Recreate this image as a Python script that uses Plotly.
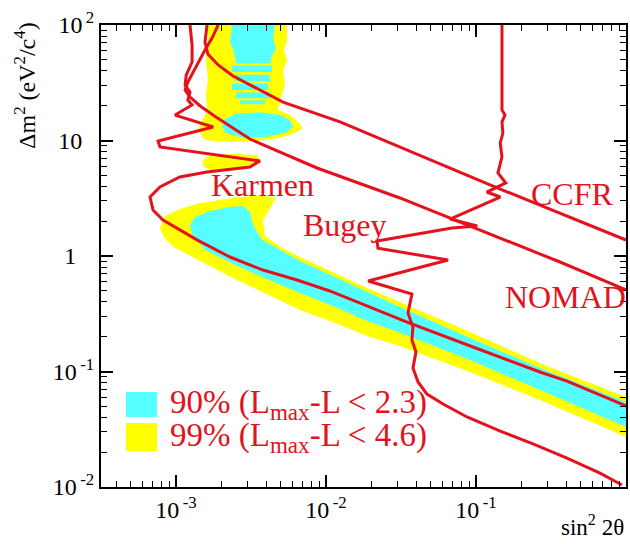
import plotly.graph_objects as go

# ---------------- data (sin^2 2theta , delta m^2) ----------------
karmen_x = [1.24e-3, 1.28e-3, 1.28e-3, 1.17e-3, 1.15e-3, 1.24e-3, 1.20e-3, 1.28e-3, 9.85e-4, 1.77e-3,
            7.59e-4, 7.82e-4, 3.63e-3, 3.11e-3, 1.61e-3, 1.06e-3, 7.82e-4, 6.71e-4, 7.03e-4, 8.19e-4,
            1.38e-3, 2.29e-3, 3.80e-3, 6.41e-3, 1.06e-2, 1.88e-2, 3.47e-2, 9.55e-2, 0.267, 0.404, 1.0]
karmen_y = [100, 67.1, 47.8, 36.9, 30.2, 26.3, 22.4, 20.3, 16.6, 13.1,
            9.90, 8.79, 6.65, 5.90, 5.34, 4.83, 3.96, 3.24, 2.50, 2.05,
            1.38, 0.980, 0.756, 0.620, 0.498, 0.369, 0.268, 0.163, 0.0990, 0.0827, 0.0503]

bugey_x = [0.149, 0.149, 0.156, 0.149, 0.151, 0.145, 0.149, 0.140, 0.158, 0.118,
           0.145, 0.0671, 0.102, 0.0692, 0.0219, 0.0222, 0.0651, 0.0191, 0.0374, 0.0352,
           0.0380, 0.0374, 0.0398, 0.0380, 0.0411, 0.0471, 0.0603, 0.0871, 0.145, 0.240,
           0.404, 0.671, 0.940]
bugey_y = [100, 18.4, 16.6, 14.5, 11.6, 9.51, 7.20, 5.23, 4.29, 3.58,
           3.24, 2.09, 1.82, 1.75, 1.35, 1.17, 0.923, 0.608, 0.469, 0.321,
           0.243, 0.187, 0.148, 0.107, 0.0811, 0.0638, 0.0523, 0.0404, 0.0305, 0.0236,
           0.0178, 0.0132, 0.0104]

ccfr_x = [1.61e-3, 1.56e-3, 1.63e-3, 1.91e-3, 2.40e-3, 5.17e-3, 1.24e-2, 3.11e-2, 0.124, 0.267, 1.0]
ccfr_y = [100, 71.3, 56.1, 45.1, 36.2, 21.5, 14.5, 8.79, 4.12, 2.76, 1.376]

nomad_x = [1.91e-3, 1.74e-3, 1.56e-3, 1.38e-3, 1.20e-3, 1.15e-3, 1.24e-3, 1.45e-3, 1.88e-3, 3.11e-3,
           8.71e-3, 3.11e-2, 0.124, 0.363, 1.0]
nomad_y = [100, 77.1, 60.8, 45.1, 32.1, 27.4, 23.8, 19.9, 15.7, 10.3,
           5.78, 3.18, 1.55, 0.887, 0.508]

# LSND allowed regions: 99% (yellow)
yellow_band_x = [7.82e-4, 8.45e-4, 1.06e-3, 1.45e-3, 2.40e-3, 3.63e-3, 4.64e-3, 4.23e-3, 3.80e-3, 3.92e-3,
                 4.94e-3, 6.71e-3, 1.11e-2, 1.88e-2, 3.11e-2, 9.12e-2, 0.267, 1.0,
                 1.0, 0.267, 9.12e-2, 3.11e-2, 1.88e-2, 1.11e-2, 6.71e-3, 4.04e-3, 2.40e-3, 1.45e-3,
                 9.55e-4, 8.19e-4]
yellow_band_y = [1.75, 2.22, 2.55, 2.88, 3.18, 3.37, 3.18, 2.60, 2.05, 1.49,
                 1.20, 0.980, 0.727, 0.528, 0.400, 0.220, 0.118, 0.0601,
                 0.0271, 0.0567, 0.0990, 0.166, 0.203, 0.268, 0.341, 0.469, 0.645, 0.905,
                 1.20, 1.49]
yellow_top_x = [1.61e-3, 5.50e-3, 5.50e-3, 5.25e-3, 5.50e-3, 5.17e-3, 5.33e-3, 4.94e-3, 4.79e-3, 5.75e-3,
                6.50e-3, 7.03e-3, 6.21e-3, 4.94e-3, 3.36e-3, 2.29e-3, 1.56e-3, 1.40e-3, 1.49e-3, 1.61e-3,
                1.585e-3, 1.63e-3, 1.585e-3, 1.63e-3]
yellow_top_y = [100, 100, 74.1, 60.8, 49.8, 40.8, 30.2, 22.4, 18.4, 16.6,
                14.5, 12.8, 11.6, 10.5, 9.90, 9.70, 10.1, 12.3, 15.0, 17.6,
                24.8, 33.4, 49.8, 74.1]
yellow_island_x = [1.51e-3, 1.69e-3, 2.47e-3, 3.47e-3, 3.63e-3, 3.36e-3, 2.47e-3, 1.69e-3, 1.51e-3]
yellow_island_y = [6.78, 7.49, 7.64, 7.49, 6.78, 6.01, 5.55, 5.55, 6.01]

# LSND allowed regions: 90% (cyan)
cyan_band_x = [1.24e-3, 1.34e-3, 1.69e-3, 2.29e-3, 2.80e-3, 3.11e-3, 3.26e-3, 3.74e-3, 4.94e-3, 6.71e-3,
               1.11e-2, 1.88e-2, 3.11e-2, 9.12e-2, 0.267, 1.0,
               1.0, 0.267, 9.12e-2, 3.11e-2, 1.88e-2, 1.11e-2, 6.71e-3, 4.04e-3, 2.40e-3, 1.56e-3, 1.30e-3]
cyan_band_y = [1.86, 2.18, 2.45, 2.66, 2.71, 2.40, 1.86, 1.38, 1.13, 0.905,
               0.671, 0.488, 0.362, 0.195, 0.107, 0.0544,
               0.0331, 0.0691, 0.126, 0.216, 0.274, 0.369, 0.478, 0.632, 0.853, 1.13, 1.46]
cyan_top_x = [2.36e-3, 4.57e-3, 4.43e-3, 4.64e-3, 4.37e-3, 4.23e-3, 2.51e-3, 2.44e-3, 2.29e-3]
cyan_top_y = [100, 100, 77.1, 63.2, 53.9, 46.5, 46.5, 58.4, 71.3]
cyan_stripes_x = [2.36e-3, 4.37e-3, 4.37e-3, 2.36e-3, None,
                  2.47e-3, 4.23e-3, 4.23e-3, 2.47e-3, None,
                  2.36e-3, 4.11e-3, 4.11e-3, 2.36e-3, None,
                  2.51e-3, 4.23e-3, 4.23e-3, 2.51e-3, None,
                  2.67e-3, 3.92e-3, 3.92e-3, 2.67e-3]
cyan_stripes_y = [44.5, 44.5, 39.2, 39.2, None,
                  37.0, 37.0, 32.8, 32.8, None,
                  31.0, 31.0, 27.4, 27.4, None,
                  26.0, 26.0, 23.2, 23.2, None,
                  22.2, 22.2, 20.6, 20.6]
cyan_blob_x = [2.06e-3, 2.47e-3, 3.63e-3, 4.94e-3, 5.75e-3, 6.03e-3, 5.33e-3, 3.92e-3, 2.67e-3, 2.15e-3, 2.03e-3]
cyan_blob_y = [15.0, 17.0, 17.6, 16.6, 15.0, 13.1, 11.6, 10.7, 10.7, 11.6, 13.1]

x_tickvals = [1e-3, 1e-2, 1e-1, 1]
x_ticktext = ["10<sup>\u2009-3</sup>", "10<sup>\u2009-2</sup>", "10<sup>\u2009-1</sup>", "1"]
y_tickvals = [1e-2, 1e-1, 1, 10, 100]
y_ticktext = ["10<sup>\u2009-2</sup>", "10<sup>\u2009-1</sup>", "1\u00a0\u00a0\u00a0",
              "10\u00a0\u00a0", "10<sup>\u20092</sup>"]
minor_vals = [m * 10.0 ** e for e in range(-4, 2) for m in range(2, 10)]

RED = "#e3121c"
CYAN = "#55ffff"
YELLOW = "#ffff00"
SERIF = "Liberation Serif"

fig = go.Figure()

def region(xs, ys, color):
    fig.add_trace(go.Scatter(x=xs, y=ys, mode="lines", fill="toself", fillcolor=color,
                             line=dict(width=0, color=color), hoverinfo="skip", showlegend=False))

region(yellow_band_x, yellow_band_y, YELLOW)
region(yellow_top_x, yellow_top_y, YELLOW)
region(yellow_island_x, yellow_island_y, YELLOW)
region(cyan_band_x, cyan_band_y, CYAN)
region(cyan_top_x, cyan_top_y, CYAN)
region(cyan_stripes_x, cyan_stripes_y, CYAN)
region(cyan_blob_x, cyan_blob_y, CYAN)

for xs, ys in [(karmen_x, karmen_y), (bugey_x, bugey_y), (ccfr_x, ccfr_y), (nomad_x, nomad_y)]:
    fig.add_trace(go.Scatter(x=xs, y=ys, mode="lines", line=dict(color=RED, width=3),
                             hoverinfo="skip", showlegend=False))

axis_common = dict(type="log", showgrid=False, zeroline=False, showline=True, linecolor="black",
                   linewidth=2, mirror="allticks", ticks="inside", ticklen=12, tickwidth=1.5,
                   tickcolor="black", tickmode="array", automargin=False,
                   tickfont=dict(family=SERIF, size=24, color="black"),
                   minor=dict(tickmode="array", tickvals=minor_vals, ticks="inside", ticklen=6,
                              tickwidth=1.2, tickcolor="black", showgrid=False))

fig.update_xaxes(range=[-3.5, 0], tickvals=x_tickvals, ticktext=x_ticktext, **axis_common)
fig.update_yaxes(range=[-2, 2], tickvals=y_tickvals, ticktext=y_ticktext, **axis_common)

labels = [("Karmen", 0.307, 0.654), ("Bugey", 0.465, 0.567), ("CCFR", 0.897, 0.634), ("NOMAD", 0.884, 0.411)]
for txt, px, py in labels:
    fig.add_annotation(text=txt, x=px, y=py, xref="paper", yref="paper", showarrow=False,
                       xanchor="center", yanchor="middle", font=dict(family=SERIF, size=32, color=RED))

# legend
fig.add_shape(type="rect", xref="paper", yref="paper", x0=0.0476, x1=0.1067, y0=0.1515, y1=0.2056,
              fillcolor=CYAN, line=dict(width=0))
fig.add_shape(type="rect", xref="paper", yref="paper", x0=0.0476, x1=0.1067, y0=0.0779, y1=0.1385,
              fillcolor=YELLOW, line=dict(width=0))
fig.add_annotation(text="90% (L<sub>max</sub>-L &lt; 2.3)", x=0.1276, y=0.1775, xref="paper", yref="paper",
                   showarrow=False, xanchor="left", yanchor="middle", font=dict(family=SERIF, size=33, color=RED))
fig.add_annotation(text="99% (L<sub>max</sub>-L &lt; 4.6)", x=0.1276, y=0.1082, xref="paper", yref="paper",
                   showarrow=False, xanchor="left", yanchor="middle", font=dict(family=SERIF, size=33, color=RED))

# axis titles
fig.add_annotation(text="sin<sup>2</sup> 2θ", x=1.0, y=-0.083, xref="paper", yref="paper", showarrow=False,
                   xanchor="right", yanchor="middle", font=dict(family=SERIF, size=23, color="black"))
fig.add_annotation(text="Δm<sup>2</sup> (eV<sup>2</sup>/c<sup>4</sup>)", x=-0.145, y=0.87, xref="paper",
                   yref="paper", showarrow=False, textangle=-90, xanchor="center", yanchor="middle",
                   font=dict(family=SERIF, size=24, color="black"))

fig.update_layout(width=630, height=544, margin=dict(l=101, r=4, t=25, b=57),
                  plot_bgcolor="white", paper_bgcolor="white", showlegend=False)

fig.write_html("out.html", config={"displayModeBar": False},
               post_script="document.body.style.margin='0px';")
